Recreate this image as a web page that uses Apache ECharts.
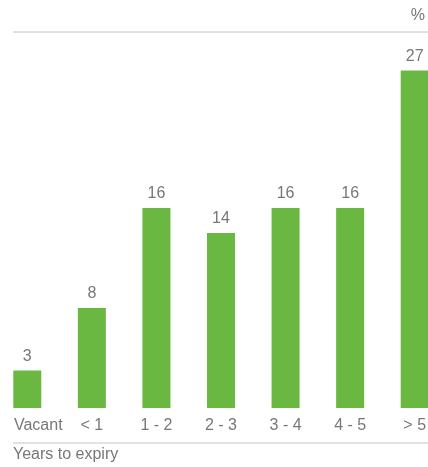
<!DOCTYPE html>
<html>
<head>
<meta charset="utf-8">
<script src="https://cdn.jsdelivr.net/npm/echarts@6/dist/echarts.min.js"></script>
<style>
  html, body { margin: 0; padding: 0; background: #fff; }
  #chart { width: 428px; height: 467px; }
</style>
</head>
<body>
<div id="chart"></div>
<script>
// years to lease expiry, share in %
const categories = ['Vacant', '< 1', '1 - 2', '2 - 3', '3 - 4', '4 - 5', '> 5'];
const shares = [3, 8, 16, 14, 16, 16, 27];
const unitLabel = '%';
const axisTitle = 'Years to expiry';

const grey = '#777777';
const font = 'Liberation Sans, Arial, sans-serif';

const chart = echarts.init(document.getElementById('chart'));
chart.setOption({
  animation: false,
  grid: { left: -5, right: -19, top: 33, bottom: 59, outerBoundsMode: 'none', containLabel: false },
  xAxis: {
    type: 'category',
    data: categories.map(function (c, i) {
      // first label sits to the right of its bar
      return i === 0 ? { value: c, textStyle: { padding: [0, 0, 0, 22] } } : c;
    }),
    axisLine: { show: false },
    axisTick: { show: false },
    axisLabel: { color: grey, fontSize: 16, fontFamily: font, margin: 10, interval: 0, hideOverlap: false }
  },
  yAxis: {
    type: 'value',
    min: 0,
    max: 30,
    show: false
  },
  series: [{
    type: 'bar',
    data: shares,
    barWidth: 28,
    itemStyle: { color: '#6ab842' },
    label: {
      show: true,
      position: 'top',
      distance: 6,
      color: grey,
      fontSize: 16,
      fontFamily: font
    }
  }],
  graphic: [
    { type: 'line', shape: { x1: 13, y1: 32, x2: 428, y2: 32 }, style: { stroke: '#c4c4c4', lineWidth: 1 } },
    { type: 'line', shape: { x1: 13, y1: 443, x2: 428, y2: 443 }, style: { stroke: '#c4c4c4', lineWidth: 1 } },
    { type: 'text', right: 3, top: 8, style: { text: unitLabel, fill: grey, fontSize: 16, fontFamily: font } },
    { type: 'text', left: 13, top: 447, style: { text: axisTitle, fill: grey, fontSize: 16, fontFamily: font } }
  ]
});
</script>
</body>
</html>
